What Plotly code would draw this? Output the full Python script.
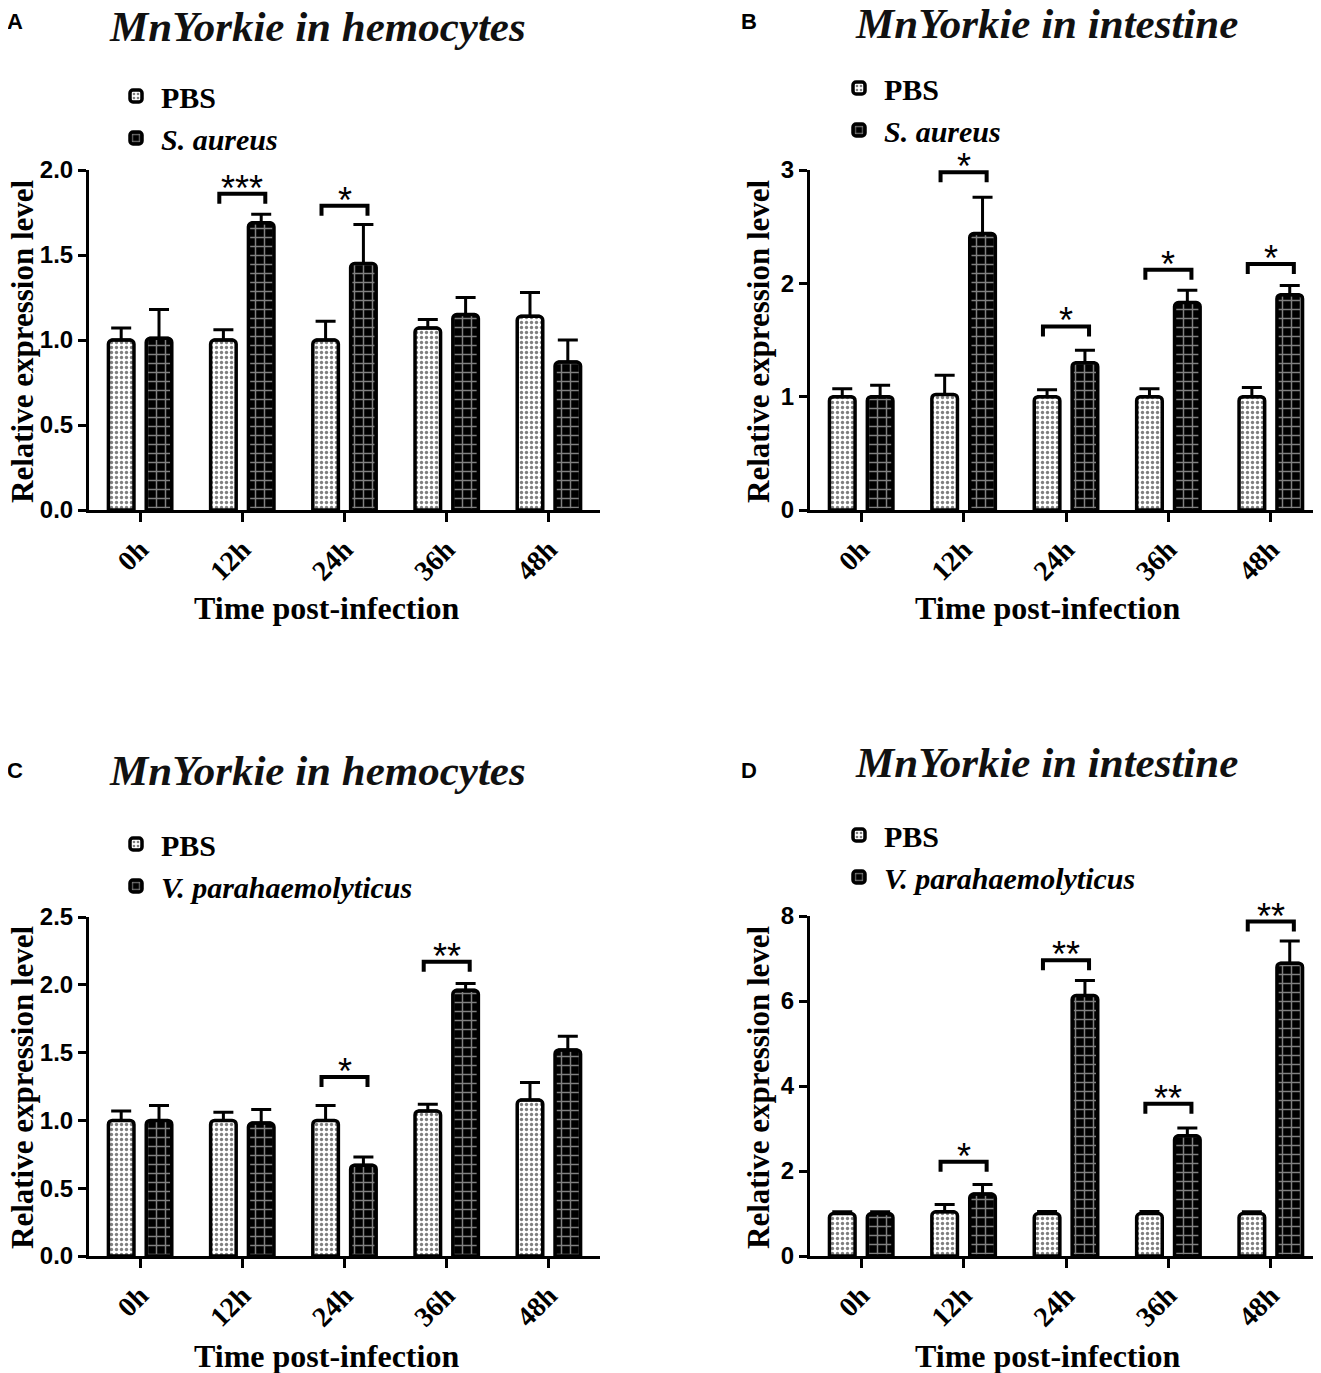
import plotly.graph_objects as go
from plotly.subplots import make_subplots

times = ["0h", "12h", "24h", "36h", "48h"]

# A: hemocytes, S. aureus
pbs_a = [1.00, 1.00, 1.00, 1.07, 1.14]
pbs_a_sem = [0.07, 0.06, 0.11, 0.05, 0.14]
sa_a = [1.01, 1.69, 1.45, 1.15, 0.87]
sa_a_sem = [0.17, 0.05, 0.23, 0.10, 0.13]
sig_a = [(1, 1.86, "***"), (2, 1.79, "*")]

# B: intestine, S. aureus
pbs_b = [1.00, 1.02, 1.00, 1.00, 1.00]
pbs_b_sem = [0.07, 0.17, 0.06, 0.07, 0.08]
sa_b = [1.00, 2.44, 1.30, 1.83, 1.90]
sa_b_sem = [0.10, 0.32, 0.11, 0.11, 0.08]
sig_b = [(1, 2.98, "*"), (2, 1.62, "*"), (3, 2.12, "*"), (4, 2.17, "*")]

# C: hemocytes, V. parahaemolyticus
pbs_c = [1.00, 1.00, 1.00, 1.07, 1.15]
pbs_c_sem = [0.07, 0.06, 0.11, 0.05, 0.13]
vp_c = [1.00, 0.98, 0.67, 1.96, 1.52]
vp_c_sem = [0.11, 0.10, 0.06, 0.05, 0.10]
sig_c = [(2, 1.32, "*"), (3, 2.17, "**")]

# D: intestine, V. parahaemolyticus
pbs_d = [1.00, 1.04, 1.00, 1.00, 1.00]
pbs_d_sem = [0.04, 0.17, 0.05, 0.05, 0.04]
vp_d = [1.00, 1.46, 6.13, 2.83, 6.89]
vp_d_sem = [0.04, 0.22, 0.35, 0.18, 0.52]
sig_d = [(1, 2.22, "*"), (2, 6.96, "**"), (3, 3.58, "**"), (4, 7.87, "**")]

panels = [
    dict(pbs=pbs_a, pbs_sem=pbs_a_sem, inf=sa_a, inf_sem=sa_a_sem, sig=sig_a,
         name="<i>S. aureus</i>", ymax=2.0, dtick=0.5, fmt=".1f"),
    dict(pbs=pbs_b, pbs_sem=pbs_b_sem, inf=sa_b, inf_sem=sa_b_sem, sig=sig_b,
         name="<i>S. aureus</i>", ymax=3, dtick=1, fmt="d"),
    dict(pbs=pbs_c, pbs_sem=pbs_c_sem, inf=vp_c, inf_sem=vp_c_sem, sig=sig_c,
         name="<i>V. parahaemolyticus</i>", ymax=2.5, dtick=0.5, fmt=".1f"),
    dict(pbs=pbs_d, pbs_sem=pbs_d_sem, inf=vp_d, inf_sem=vp_d_sem, sig=sig_d,
         name="<i>V. parahaemolyticus</i>", ymax=8, dtick=2, fmt="d"),
]

W, H = 1321, 1373
OX, OY = 7, 8  # page offset of the plot div
SERIF = "Liberation Serif"
SANS = "Liberation Sans"


def px(xv):
    return (xv - OX) / W


def py(yv):
    return 1 - (yv - OY) / H


fig = make_subplots(rows=2, cols=2)

# pixel boxes of each plot area on the page: (left, right, top, bottom)
boxes = [(88, 599, 170, 510), (809, 1321, 170, 510),
         (88, 599, 917, 1256), (809, 1321, 916, 1256)]
legend_pos = [(110, 70), (833, 62), (110, 818), (833, 809)]
titles = [("MnYorkie in hemocytes", 316, 26), ("MnYorkie in intestine", 1045, 24),
          ("MnYorkie in hemocytes", 316, 770), ("MnYorkie in intestine", 1045, 762)]
letters = [("A", 14, 22), ("B", 748, 22), ("C", 14, 770), ("D", 748, 770)]
ytitle_pos = [(21, 341), (757, 341), (21, 1087), (757, 1087)]
xtitle_pos = [(325, 608), (1046, 608), (325, 1356), (1046, 1356)]

x = list(range(len(times)))
bw = 0.25

for k, p in enumerate(panels):
    r, c = k // 2 + 1, k % 2 + 1
    leg = "legend" if k == 0 else f"legend{k + 1}"
    fig.add_trace(go.Bar(
        x=x, y=p["pbs"], name="PBS", width=bw, offset=-0.31, legend=leg,
        marker=dict(color="white", cornerradius=4,
                    line=dict(color="black", width=3.5),
                    pattern=dict(shape=".", fgcolor="black", bgcolor="white",
                                 size=5, solidity=0.35)),
        error_y=dict(type="data", array=p["pbs_sem"], arrayminus=[0] * 5,
                     symmetric=False, color="black", thickness=3, width=10),
    ), row=r, col=c)
    fig.add_trace(go.Bar(
        x=x, y=p["inf"], name=p["name"], width=bw, offset=0.06, legend=leg,
        marker=dict(color="black", cornerradius=4,
                    line=dict(color="black", width=3.5),
                    pattern=dict(shape="+", fgcolor="white", bgcolor="black",
                                 size=9, solidity=0.3)),
        error_y=dict(type="data", array=p["inf_sem"], arrayminus=[0] * 5,
                     symmetric=False, color="black", thickness=3, width=10),
    ), row=r, col=c)

    left, right, top, bottom = boxes[k]
    axn = "" if k == 0 else str(k + 1)
    fig.layout[f"xaxis{axn}"].update(
        domain=[px(left), min(px(right), 1)], range=[-0.5, 4.5], automargin=False,
        tickmode="array", tickvals=x, ticktext=times, tickangle=-45,
        tickfont=dict(family=SERIF, size=28, color="black", weight="bold"),
        showline=True, linecolor="black", linewidth=3, ticks="outside",
        ticklen=9, tickwidth=3, tickcolor="black", showgrid=False, zeroline=False,
    )
    fig.layout[f"yaxis{axn}"].update(
        domain=[py(bottom), py(top)], range=[0, p["ymax"]], automargin=False,
        dtick=p["dtick"], tickformat=p["fmt"],
        tickfont=dict(family=SANS, size=24, color="black", weight="bold"),
        showline=True, linecolor="black", linewidth=3, ticks="outside",
        ticklen=8, tickwidth=3, tickcolor="black", showgrid=False, zeroline=False,
    )

    # axis titles
    ytx, yty = ytitle_pos[k]
    fig.add_annotation(x=px(ytx), y=py(yty), xref="paper", yref="paper",
                       text="Relative expression level", textangle=-90, showarrow=False,
                       xanchor="center", yanchor="middle",
                       font=dict(family=SERIF, size=31, color="black", weight="bold"))
    xtx, xty = xtitle_pos[k]
    fig.add_annotation(x=px(xtx), y=py(xty), xref="paper", yref="paper",
                       text="Time post-infection", showarrow=False,
                       xanchor="center", yanchor="middle",
                       font=dict(family=SERIF, size=32, color="black", weight="bold"))

    # significance brackets
    drop = 10 * p["ymax"] / (bottom - top)
    xr = f"x{axn}"
    yr = f"y{axn}"
    for i, yb, lab in p["sig"]:
        x0, x1 = i - 0.225, i + 0.225
        fig.add_shape(type="path", xref=xr, yref=yr,
                      path=f"M {x0},{yb - drop} L {x0},{yb} L {x1},{yb} L {x1},{yb - drop}",
                      line=dict(color="black", width=4))
        fig.add_annotation(x=i, y=yb, xref=xr, yref=yr, text=lab, showarrow=False,
                           yanchor="bottom", yshift=-17,
                           font=dict(family=SANS, size=36, color="black"))

    lx, ly = legend_pos[k]
    fig.update_layout({leg: dict(
        x=px(lx), y=py(ly), xanchor="left", yanchor="top",
        bgcolor="rgba(0,0,0,0)", tracegroupgap=0, itemwidth=40,
        font=dict(family=SERIF, size=30, color="black", weight="bold"),
    )})

    t, tx, ty = titles[k]
    fig.add_annotation(x=px(tx), y=py(ty), xref="paper", yref="paper",
                       text=f"<i>{t}</i>", showarrow=False, xanchor="center", yanchor="middle",
                       font=dict(family=SERIF, size=43, color="#111", weight="bold"))
    lt, lxp, lyp = letters[k]
    fig.add_annotation(x=px(lxp), y=py(lyp), xref="paper", yref="paper",
                       text=lt, showarrow=False, xanchor="center", yanchor="middle",
                       font=dict(family=SANS, size=22, color="black", weight="bold"))

fig.update_layout(
    width=W, height=H, margin=dict(l=0, r=0, t=0, b=0),
    plot_bgcolor="white", paper_bgcolor="white", barmode="overlay",
    showlegend=True,
)

fig.write_html("out.html")
